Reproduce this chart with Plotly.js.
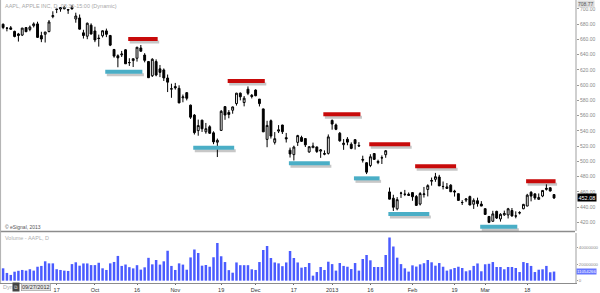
<!DOCTYPE html>
<html>
<head>
<meta charset="utf-8">
<script src="https://cdn.plot.ly/plotly-3.0.1.min.js"></script>
<style>html,body{margin:0;padding:0;background:#fff;}#chart{width:600px;height:293px;}</style>
</head>
<body>
<div id="chart"></div>
<script>
// ---- Trading calendar (AAPL daily, 27 Aug 2012 – 27 Mar 2013) ----
const firstDay = '2012-08-27';
const lastDay = '2013-03-27';
const marketHolidays = ['2012-09-03','2012-10-29','2012-10-30','2012-11-22','2012-12-25','2013-01-01','2013-01-21','2013-02-18'];

// ---- OHLC (USD) ----
const openP = [679.99,674.98,675.25,670.64,667.25,665.76,675.57,673.17,678.05,680.45,
665.11,666.85,670.38,689.96,699.35,699.88,700.26,699.16,702.41,686.86,
688.26,668.74,664.29,678.75,671.16,661.81,664.86,671.25,665.20,646.88,
638.65,639.74,646.50,629.56,632.35,635.37,648.87,639.59,631.05,612.42,
631.00,621.44,620.00,609.43,594.88,598.22,595.89,583.52,590.23,573.84,
560.77,540.42,554.15,538.91,545.50,537.53,525.20,540.71,571.91,564.25,
567.17,575.90,589.55,577.27,594.77,586.79,593.65,581.80,568.91,528.94,
553.40,525.00,539.78,547.77,531.15,514.75,508.93,525.00,531.47,530.00,
512.47,518.00,519.00,513.54,510.29,510.53,553.82,547.88,536.97,522.00,
529.21,522.50,528.55,521.00,502.68,498.30,494.64,510.31,498.52,504.56,
508.81,460.00,451.69,437.83,458.50,457.00,456.98,459.11,453.91,444.05,
456.47,463.25,474.00,476.50,479.51,467.21,464.52,468.85,461.10,457.69,
446.00,449.25,453.85,443.82,448.43,444.05,438.00,427.80,421.48,434.51,
424.50,429.80,429.75,435.60,428.45,432.83,437.93,441.45,459.50,457.42,
450.22,454.60,464.69,465.44,456.46];
const highP = [680.87,676.10,677.67,671.55,668.60,675.14,676.35,678.29,682.48,683.29,
670.10,669.90,685.50,696.98,699.80,702.33,703.99,700.06,705.07,695.12,
692.78,672.69,682.17,681.11,676.75,666.36,671.86,674.25,666.00,647.56,
640.49,644.98,647.20,635.38,635.13,650.30,652.79,642.06,631.77,635.38,
633.90,626.55,622.00,614.00,601.96,603.00,599.88,587.77,590.74,574.54,
562.12,554.88,554.50,550.48,547.45,539.50,530.00,567.50,571.95,567.37,
572.00,590.00,590.42,585.80,598.40,588.40,594.59,581.80,569.25,553.31,
555.00,538.51,547.65,547.99,537.36,518.13,520.65,534.90,533.70,530.20,
519.67,524.66,519.46,516.25,514.48,535.40,555.00,549.67,538.63,529.30,
531.89,525.01,528.72,525.32,507.50,498.99,509.44,510.75,502.22,507.88,
514.99,465.73,456.23,453.21,460.20,462.60,459.28,459.48,455.94,459.74,
466.50,470.00,478.81,484.94,482.38,473.64,471.64,470.16,462.73,457.69,
449.17,451.60,455.12,451.54,452.44,447.87,438.18,428.20,435.19,435.25,
432.01,435.43,439.01,438.88,434.50,434.64,444.23,457.46,460.97,457.63,
457.98,462.10,469.95,465.84,456.80];
const lowP = [673.54,670.67,672.60,662.85,657.25,664.50,669.60,670.80,675.77,662.10,
656.50,656.00,669.43,687.89,694.61,696.42,699.57,693.62,699.36,682.00,
673.00,661.20,660.35,666.75,656.50,650.65,662.63,663.08,651.28,636.11,
623.55,637.00,628.10,625.30,623.85,631.00,644.00,630.00,609.62,610.76,
611.70,610.64,605.55,591.00,583.46,594.17,576.37,577.60,580.09,555.75,
535.29,533.72,538.65,536.36,536.18,522.62,505.75,539.88,554.58,556.60,
562.60,573.25,580.10,572.26,586.98,582.68,585.50,572.13,538.77,518.63,
530.00,522.18,537.19,536.00,524.80,505.12,501.23,520.30,525.50,518.88,
511.25,518.00,511.12,504.66,508.12,509.00,541.63,541.00,525.83,515.20,
521.25,515.99,515.52,519.02,498.51,483.38,492.50,502.03,496.40,496.63,
504.77,450.25,435.00,435.86,452.12,454.50,455.00,448.35,442.00,442.22,
452.58,454.12,468.25,473.25,467.74,463.22,464.02,459.92,453.85,448.80,
442.82,446.60,442.57,437.66,440.65,441.40,429.98,419.00,420.75,424.43,
421.06,428.61,425.14,427.57,425.36,430.45,437.25,441.20,447.61,449.59,
450.10,453.11,461.78,460.53,450.73];
const closeP = [675.68,674.80,673.47,663.87,665.24,674.97,670.23,676.27,680.44,662.74,
660.59,669.79,682.98,691.28,699.78,701.91,702.10,698.70,700.09,690.79,
673.54,665.18,681.32,667.10,659.39,661.31,671.45,666.80,652.59,638.17,
635.85,640.91,628.10,629.71,634.76,649.79,644.61,632.64,609.84,634.03,
613.36,616.83,609.54,604.00,595.32,596.54,576.80,584.62,582.85,558.00,
537.75,547.06,542.83,542.90,536.88,525.62,527.68,565.73,560.91,561.70,
571.50,589.53,584.78,582.94,589.36,585.28,586.19,575.85,538.79,547.24,
533.25,529.82,541.39,539.00,529.69,509.79,518.83,533.90,526.31,521.73,
519.33,520.17,513.00,515.06,509.59,532.17,549.03,542.10,527.00,523.90,
525.31,517.10,523.51,520.30,501.75,485.92,506.09,502.68,500.00,504.77,
514.01,450.50,439.88,449.83,458.27,456.83,455.49,453.62,442.32,457.84,
457.35,468.22,474.98,479.93,467.90,467.01,466.59,460.16,459.99,448.85,
446.06,450.81,442.80,448.97,444.57,441.40,430.47,420.05,431.14,425.66,
430.58,431.72,437.87,428.43,428.35,432.50,443.66,455.72,454.49,452.08,
452.73,461.91,463.58,461.14,452.08];

// ---- Volume (millions of shares) ----
const volumeM = [15.0,9.4,7.0,10.9,12.0,13.0,12.2,13.9,12.2,16.9,
17.9,23.5,21.0,21.0,13.9,13.0,12.2,11.8,20.1,22.3,
18.2,20.9,20.9,18.9,18.9,21.7,15.0,13.0,21.0,22.7,
30.0,17.9,19.6,16.4,14.9,18.8,13.4,16.2,27.7,19.8,
25.1,19.5,23.5,36.2,17.9,13.0,21.0,19.5,13.3,28.2,
37.8,33.6,18.2,19.0,16.9,28.4,45.7,29.6,22.6,12.8,
9.7,22.1,18.8,18.8,18.8,13.8,13.0,22.6,37.2,42.1,
27.5,22.1,21.0,17.6,22.1,36.0,27.5,22.1,15.8,16.6,
21.4,6.1,10.5,16.6,13.0,23.0,20.1,12.2,21.4,17.9,
16.9,14.1,21.4,12.2,26.3,31.2,24.7,16.6,16.6,16.6,
31.2,52.2,41.3,27.9,20.1,15.0,11.0,18.6,17.1,19.8,
21.2,25.1,22.3,18.2,21.4,16.9,12.2,13.8,15.4,16.9,
15.4,11.4,12.6,17.9,20.9,11.4,19.9,20.5,22.6,16.6,
16.6,13.8,16.6,16.6,15.4,10.5,22.6,21.4,17.9,10.5,
13.3,13.8,17.9,10.2,11.054266];

// ---- X tick labels ----
const tickDates = ['2012-09-17','2012-10-01','2012-10-16','2012-11-01','2012-11-19','2012-12-03','2012-12-17','2013-01-02','2013-01-16','2013-02-01','2013-02-19','2013-03-01','2013-03-18'];
const tickLabels = ['17','Oct','16','Nov','19','Dec','17','2013','16','Feb','19','Mar','18'];

// ---- Axis ticks ----
const priceTicks = [420,440,460,480,500,520,540,560,580,600,620,640,660,680,700];
const volumeTicks = [0, 20000000, 40000000];
const scaleTopLabel = '708.77';

// ---- Drawn resistance (red) and support (cyan) levels ----
const resistFrom = ['2012-10-12','2012-11-21','2012-12-28','2013-01-16','2013-02-04','2013-03-18'];
const resistTo   = ['2012-10-23','2012-12-05','2013-01-11','2013-01-31','2013-02-19','2013-03-27'];
const resistPrice = [660.6, 605.5, 561.8, 522.4, 493.6, 474.0];
const supportFrom = ['2012-10-04','2012-11-08','2012-12-14','2013-01-10','2013-01-24','2013-02-28'];
const supportTo   = ['2012-10-17','2012-11-23','2012-12-31','2013-01-18','2013-02-07','2013-03-13'];
const supportPrice = [617.7, 518.0, 497.5, 477.8, 431.0, 414.3];

// build trading-day categories
function pad(n){return n<10?'0'+n:''+n;}
const dates = [];
(function(){
  let d = new Date(firstDay+'T00:00:00Z');
  const end = new Date(lastDay+'T00:00:00Z');
  while (d <= end) {
    const wd = d.getUTCDay();
    const s = d.getUTCFullYear()+'-'+pad(d.getUTCMonth()+1)+'-'+pad(d.getUTCDate());
    if (wd !== 0 && wd !== 6 && marketHolidays.indexOf(s) < 0) dates.push(s);
    d = new Date(d.getTime() + 86400000);
  }
})();

const FONT = 'Liberation Sans, Arial, sans-serif';
const PH = 283; // plot-area height in px (293 - bottom margin)

const volTrace = {
  type: 'bar', x: dates, y: volumeM.map(v => v * 1e6), yaxis: 'y2', xaxis: 'x',
  marker: {color: '#4a5bff', line: {width: 0}}, hoverinfo: 'skip'
};
const candle = {
  type: 'candlestick', x: dates, open: openP, high: highP, low: lowP, close: closeP,
  xaxis: 'x', yaxis: 'y', whiskerwidth: 0,
  increasing: {line: {color: '#000', width: 1}, fillcolor: '#ffffff'},
  decreasing: {line: {color: '#000', width: 1}, fillcolor: '#000000'},
  hoverinfo: 'skip'
};

const shapes = [];
function level(from, to, price, color) {
  const i0 = dates.indexOf(from) - 0.3, i1 = dates.indexOf(to) + 0.4;
  shapes.push({type: 'line', xref: 'x', yref: 'y', ysizemode: 'pixel', yanchor: price,
    x0: i0 + 0.4, x1: i1 + 0.4, y0: -3, y1: -3, line: {color: 'rgba(0,0,0,0.22)', width: 3}});
  shapes.push({type: 'line', xref: 'x', yref: 'y', x0: i0, x1: i1, y0: price, y1: price,
    line: {color: color, width: 4}});
}
resistFrom.forEach((f, i) => level(f, resistTo[i], resistPrice[i], '#c80a0a'));
supportFrom.forEach((f, i) => level(f, supportTo[i], supportPrice[i], '#4aaec6'));
// panel separator and left frame
shapes.push({type: 'line', xref: 'paper', yref: 'paper', x0: 0, x1: 1, y0: (PH-231.5)/PH, y1: (PH-231.5)/PH, line: {color: '#8c8c8c', width: 1.5}});
shapes.push({type: 'line', xref: 'paper', yref: 'paper', x0: 0.001, x1: 0.001, y0: 0, y1: 1, line: {color: '#b0b0b0', width: 1}});

const lastClose = closeP[closeP.length - 1];
const lastVol = volumeM[volumeM.length - 1];
const botY = -4.5 / PH;

const annotations = [
  {xref: 'paper', yref: 'paper', x: 0.005, y: 0.997, xanchor: 'left', yanchor: 'top', showarrow: false,
   text: 'AAPL, APPLE INC, D, 08:30-15:00 (Dynamic)', font: {family: FONT, size: 5.5, color: '#a8a8a8'}},
  {xref: 'paper', yref: 'paper', x: 0.005, y: (PH-227)/PH, xanchor: 'left', yanchor: 'middle', showarrow: false,
   text: '© eSignal, 2013', font: {family: FONT, size: 5, color: '#555'}},
  {xref: 'paper', yref: 'paper', x: 0.005, y: (PH-238)/PH, xanchor: 'left', yanchor: 'middle', showarrow: false,
   text: 'Volume - AAPL, D', font: {family: FONT, size: 5.5, color: '#b0b0b0'}},
  {xref: 'paper', yref: 'y', x: 1.003, y: lastClose, xanchor: 'left', yanchor: 'middle', showarrow: false,
   text: lastClose.toFixed(2), bgcolor: '#000', borderpad: 0.5, font: {family: FONT, size: 5.5, color: '#fff'}},
  {xref: 'paper', yref: 'y2', x: 1.002, y: lastVol * 1e6, xanchor: 'left', yanchor: 'middle', showarrow: false,
   text: String(Math.round(lastVol * 1e6)), bgcolor: '#6877ff', borderpad: 0, font: {family: FONT, size: 4.3, color: '#fff'}},
  {xref: 'paper', yref: 'paper', x: 1.003, y: 1, xanchor: 'left', yanchor: 'top', showarrow: false,
   text: scaleTopLabel, bgcolor: '#dcdcdc', borderpad: 0, font: {family: FONT, size: 5, color: '#555'}},
  {xref: 'paper', yref: 'paper', x: 0.001, y: botY, xanchor: 'left', yanchor: 'middle', showarrow: false,
   text: 'Dyn', font: {family: FONT, size: 5.5, color: '#aaa'}},
  {xref: 'paper', yref: 'paper', x: 0.021, y: botY, xanchor: 'left', yanchor: 'middle', showarrow: false,
   text: '⧉', bgcolor: '#444', font: {family: FONT, size: 5, color: '#ddd'}},
  {xref: 'paper', yref: 'paper', x: 0.037, y: botY, xanchor: 'left', yanchor: 'middle', showarrow: false,
   text: '09/27/2012', bgcolor: '#e4e4e4', bordercolor: '#888', borderwidth: 0.5, borderpad: 0.5,
   font: {family: FONT, size: 5.5, color: '#333'}}
];

const layout = {
  width: 600, height: 293,
  margin: {l: 0, r: 25, t: 0, b: 10, pad: 0},
  paper_bgcolor: '#fff', plot_bgcolor: '#fff',
  showlegend: false, bargap: 0.35, boxgap: 0.3,
  font: {family: FONT, size: 5.5, color: '#777'},
  xaxis: {
    type: 'category', range: [-0.81, 149.48], anchor: 'y2',
    showgrid: false, zeroline: false, showline: true, linecolor: '#8c8c8c', linewidth: 1,
    ticks: 'outside', ticklen: 1, tickcolor: '#666',
    tickvals: tickDates, ticktext: tickLabels,
    tickfont: {family: FONT, size: 5.5, color: '#333'},
    rangeslider: {visible: false}, fixedrange: true
  },
  yaxis: {
    domain: [(PH-231)/PH, 1], side: 'right', anchor: 'x', range: [408.7, 711.8],
    tickvals: priceTicks, tickformat: '.2f',
    showgrid: false, zeroline: false, showline: true, linecolor: '#cfcfcf', linewidth: 2,
    ticks: 'outside', ticklen: 2, tickcolor: '#999',
    tickfont: {family: FONT, size: 5, color: '#888'}, fixedrange: true
  },
  yaxis2: {
    domain: [0, (PH-232.5)/PH], side: 'right', anchor: 'x', range: [-2.8e6, 58.4e6],
    tickvals: volumeTicks, ticktext: volumeTicks.map(v => String(v)),
    showgrid: false, zeroline: false, showline: true, linecolor: '#cfcfcf', linewidth: 2,
    ticks: 'outside', ticklen: 1, tickcolor: '#999',
    tickfont: {family: FONT, size: 4.3, color: '#888'}, fixedrange: true
  },
  shapes: shapes,
  annotations: annotations
};

Plotly.newPlot('chart', [volTrace, candle], layout, {staticPlot: true, displayModeBar: false});
</script>
</body>
</html>
